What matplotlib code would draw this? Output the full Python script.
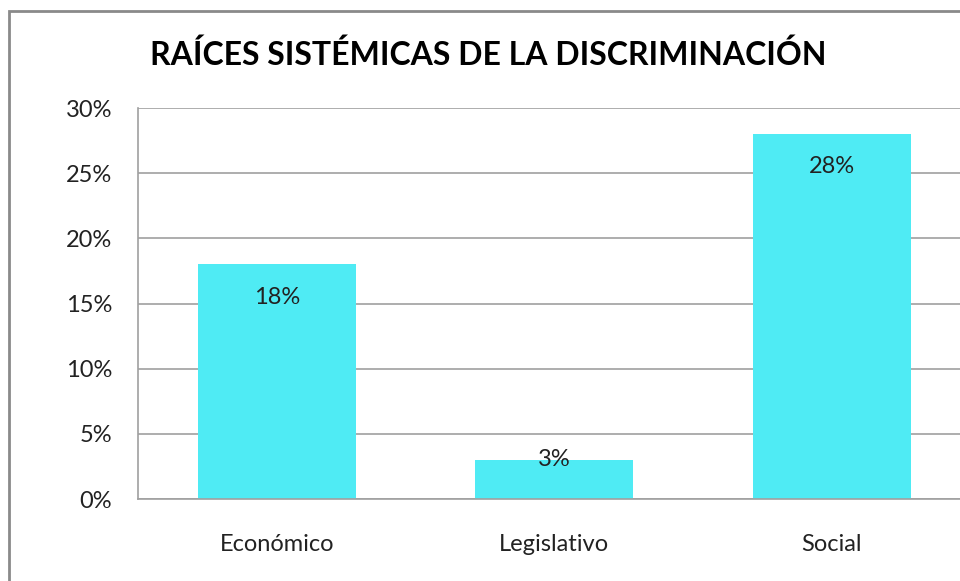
import matplotlib.pyplot as plt
from matplotlib.patches import Rectangle
from matplotlib.ticker import PercentFormatter

plt.rcParams['font.family'] = ['Lato', 'DejaVu Sans']

categorias = ['Económico', 'Legislativo', 'Social']
valores = [18, 3, 28]
titulo = 'RAÍCES SISTÉMICAS DE LA DISCRIMINACIÓN'

W, H = 960, 581
fig = plt.figure(figsize=(W / 100, H / 100), dpi=100)

# marco del grafico (solo se ven el borde izquierdo y el superior)
fig.patches.append(Rectangle((9 / W, -0.1), 1.2, 1.1 - 11 / H, transform=fig.transFigure,
                             fill=False, edgecolor='#8a8a8a', linewidth=2, clip_on=False))

ax = fig.add_axes([138 / W, (H - 499) / H, 832.5 / W, 391 / H])
x = range(len(categorias))
ax.bar(x, valores, width=0.57, color='#4FEBF4', zorder=2)

ax.set_xlim(-0.5, 2.5)
ax.set_ylim(0, 30)
ax.set_yticks(range(0, 31, 5))
ax.yaxis.set_major_formatter(PercentFormatter(decimals=0))
ax.set_xticks(list(x))
ax.set_xticklabels(categorias)
ax.tick_params(axis='both', length=0, labelsize=17, colors='#222222')
ax.tick_params(axis='x', pad=25)
ax.tick_params(axis='y', pad=18.5)
ax.grid(axis='y', color='#a0a0a0', linewidth=1.2, zorder=1)
for s in ['top', 'right']:
    ax.spines[s].set_visible(False)
for s in ['left', 'bottom']:
    ax.spines[s].set_color('#a0a0a0')
    ax.spines[s].set_linewidth(1.2)

for xi, v in zip(x, valores):
    if v < 5:
        ax.annotate(f'{v}%', (xi, v), ha='center', va='center', fontsize=17, color='#222222', zorder=3)
    else:
        ax.annotate(f'{v}%', (xi, v), xytext=(0, -23.5), textcoords='offset points',
                    ha='center', va='center', fontsize=17, color='#222222', zorder=3)

fig.text(488 / W, 1 - 55 / H, titulo, ha='center', va='center', fontsize=23, fontweight='bold')

fig.savefig('out.png', dpi=100)
